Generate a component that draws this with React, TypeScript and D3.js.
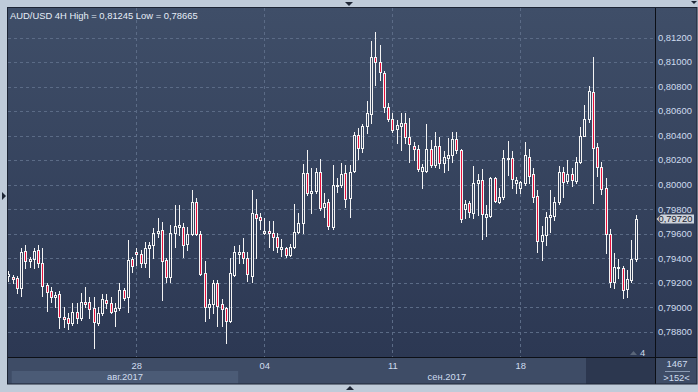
import React from 'react';
import * as d3 from 'd3';

// AUD/USD 4H candles (oldest first)
const opens = [
  0.79254, 0.79244, 0.79236, 0.79154, 0.79458, 0.79379, 0.79393, 0.79466, 0.79363, 0.79181,
  0.79132, 0.79081, 0.79105, 0.78922, 0.78909, 0.78869, 0.78958, 0.78909, 0.7904, 0.7904,
  0.78991, 0.78873, 0.78955, 0.79059, 0.79032, 0.78971, 0.78991, 0.7914, 0.79086, 0.79391,
  0.79448, 0.79434, 0.79358, 0.7948, 0.79507, 0.79603, 0.7963, 0.79385, 0.79249, 0.79603,
  0.79656, 0.79652, 0.79513, 0.79594, 0.79856, 0.79594, 0.79276, 0.79004, 0.79026, 0.79195,
  0.79026, 0.78991, 0.7889, 0.79263, 0.79434, 0.79448, 0.79404, 0.79257, 0.7976, 0.79733,
  0.79603, 0.79621, 0.79603, 0.7957, 0.79475, 0.7948, 0.79426, 0.79488, 0.79611, 0.79684,
  0.80092, 0.79929, 0.79945, 0.80105, 0.79815, 0.79856, 0.79656, 0.79997, 0.79997, 0.80092,
  0.79888, 0.80113, 0.80405, 0.80296, 0.80478, 0.80573, 0.81043, 0.80998, 0.80908, 0.8063,
  0.80533, 0.80451, 0.8048, 0.805, 0.80386, 0.80317, 0.80288, 0.80113, 0.80113, 0.80288,
  0.8016, 0.80315, 0.80179, 0.80214, 0.80241, 0.80369, 0.80282, 0.79798, 0.79847, 0.79766,
  0.80011, 0.80037, 0.79738, 0.79746, 0.80051, 0.7986, 0.79901, 0.80206, 0.80214, 0.80011,
  0.7997, 0.80011, 0.80228, 0.80084, 0.79907, 0.7954, 0.79589, 0.79733, 0.79746, 0.79856,
  0.801, 0.80032, 0.80084, 0.80032, 0.80187, 0.80399, 0.80533, 0.80758, 0.80304, 0.80141,
  0.7997, 0.79597, 0.79208, 0.7933, 0.79317, 0.79146, 0.79222, 0.79391,
];
const highs = [
  0.79295, 0.79263, 0.79254, 0.7948, 0.79507, 0.79412, 0.79485, 0.79507, 0.7948, 0.792,
  0.79162, 0.79126, 0.79134, 0.78999, 0.78955, 0.79032, 0.79037, 0.79113, 0.79162, 0.79086,
  0.79086, 0.79004, 0.79105, 0.79105, 0.79086, 0.79037, 0.79195, 0.79154, 0.79548, 0.79412,
  0.7948, 0.79466, 0.79534, 0.79534, 0.79643, 0.79725, 0.79697, 0.79399, 0.7967, 0.79834,
  0.79834, 0.79684, 0.79656, 0.79956, 0.79888, 0.79621, 0.79377, 0.79064, 0.79222, 0.79222,
  0.79064, 0.79004, 0.79404, 0.79499, 0.79507, 0.79562, 0.79453, 0.79956, 0.7988, 0.79771,
  0.79725, 0.79705, 0.79705, 0.79603, 0.79554, 0.79488, 0.79513, 0.79839, 0.79766, 0.80168,
  0.80282, 0.80133, 0.80133, 0.80206, 0.79929, 0.79882, 0.8016, 0.80051, 0.80174, 0.8016,
  0.8016, 0.80427, 0.80459, 0.80492, 0.80682, 0.81171, 0.81245, 0.81139, 0.80927, 0.80663,
  0.80581, 0.80527, 0.80581, 0.80581, 0.80541, 0.8035, 0.80323, 0.80165, 0.80494, 0.80364,
  0.80427, 0.80391, 0.80274, 0.80378, 0.80427, 0.80431, 0.8029, 0.79874, 0.79866, 0.80152,
  0.80086, 0.80127, 0.79834, 0.80064, 0.80064, 0.7997, 0.80282, 0.80358, 0.80274, 0.80064,
  0.80032, 0.80345, 0.8029, 0.80138, 0.79956, 0.79662, 0.79774, 0.79956, 0.79901, 0.80152,
  0.80146, 0.80201, 0.80133, 0.80228, 0.80472, 0.80649, 0.80807, 0.81043, 0.80342, 0.80187,
  0.80051, 0.79635, 0.7944, 0.79391, 0.79336, 0.79303, 0.79548, 0.79752,
];
const lows = [
  0.79214, 0.792, 0.79113, 0.79091, 0.79317, 0.7933, 0.79317, 0.7933, 0.79094, 0.78971,
  0.79045, 0.78999, 0.78828, 0.78841, 0.7882, 0.78855, 0.78869, 0.78895, 0.79001, 0.78914,
  0.78665, 0.78855, 0.78936, 0.78991, 0.7895, 0.78846, 0.78977, 0.79059, 0.78963, 0.79289,
  0.79344, 0.7933, 0.7933, 0.79249, 0.79399, 0.79575, 0.79059, 0.79208, 0.79208, 0.79488,
  0.79589, 0.79412, 0.79466, 0.79589, 0.79589, 0.79265, 0.7889, 0.78909, 0.7895, 0.78849,
  0.78849, 0.78705, 0.78882, 0.79254, 0.79358, 0.79358, 0.79214, 0.79208, 0.79399, 0.79638,
  0.79597, 0.79493, 0.79466, 0.79453, 0.79417, 0.79412, 0.79417, 0.7948, 0.79603, 0.79608,
  0.79915, 0.79766, 0.79934, 0.79793, 0.79738, 0.79638, 0.79638, 0.79942, 0.79983, 0.7982,
  0.79738, 0.80105, 0.80206, 0.80268, 0.80418, 0.805, 0.80812, 0.80853, 0.80595, 0.80521,
  0.80431, 0.80337, 0.80282, 0.80337, 0.80182, 0.80201, 0.80111, 0.79975, 0.80105, 0.80146,
  0.80146, 0.80133, 0.80105, 0.80119, 0.80187, 0.80255, 0.79697, 0.7973, 0.79738, 0.7973,
  0.79752, 0.79554, 0.79583, 0.79738, 0.7986, 0.79847, 0.7988, 0.80078, 0.7997, 0.79929,
  0.79929, 0.79997, 0.80011, 0.7986, 0.79453, 0.79385, 0.79507, 0.79616, 0.79711, 0.79842,
  0.79901, 0.80011, 0.79991, 0.80015, 0.80179, 0.80396, 0.80513, 0.79852, 0.8007, 0.79923,
  0.79444, 0.79167, 0.79159, 0.79236, 0.79072, 0.79081, 0.79208, 0.79379,
];
const closes = [
  0.79271, 0.79227, 0.79154, 0.79453, 0.79379, 0.79393, 0.79458, 0.79358, 0.79175, 0.79126,
  0.79086, 0.79099, 0.78917, 0.78901, 0.78869, 0.78961, 0.78909, 0.79042, 0.79024, 0.78983,
  0.78882, 0.78955, 0.79064, 0.79032, 0.78963, 0.78996, 0.7914, 0.79077, 0.79385, 0.79338,
  0.79431, 0.79358, 0.7948, 0.79507, 0.79603, 0.79621, 0.79377, 0.79249, 0.79603, 0.79662,
  0.7967, 0.79507, 0.79594, 0.79856, 0.79594, 0.79271, 0.79004, 0.79026, 0.79195, 0.79012,
  0.78983, 0.7889, 0.79276, 0.79448, 0.79448, 0.79399, 0.79268, 0.79766, 0.79725, 0.79711,
  0.79621, 0.79603, 0.7957, 0.79488, 0.79488, 0.79426, 0.79488, 0.79611, 0.79684, 0.80092,
  0.79929, 0.79945, 0.801, 0.79807, 0.79847, 0.79662, 0.79997, 0.79989, 0.80084, 0.79882,
  0.801, 0.80405, 0.80296, 0.80478, 0.80581, 0.81038, 0.80998, 0.80921, 0.8063, 0.80533,
  0.80445, 0.80486, 0.805, 0.80386, 0.80331, 0.8029, 0.80127, 0.80141, 0.80288, 0.8016,
  0.80315, 0.80179, 0.80223, 0.80241, 0.80369, 0.80282, 0.79717, 0.79839, 0.79774, 0.80011,
  0.80037, 0.79758, 0.79758, 0.80051, 0.79869, 0.79901, 0.80214, 0.80219, 0.80043, 0.80037,
  0.80019, 0.80241, 0.80073, 0.79901, 0.79542, 0.79589, 0.79738, 0.79752, 0.79856, 0.801,
  0.80024, 0.80084, 0.80037, 0.80187, 0.80399, 0.80533, 0.80766, 0.80296, 0.80146, 0.79962,
  0.79594, 0.79208, 0.7933, 0.79317, 0.7914, 0.79227, 0.79391, 0.7972,
];

const priceTicks = [0.788, 0.79, 0.792, 0.794, 0.796, 0.798, 0.8, 0.802, 0.804, 0.806, 0.808, 0.81, 0.812];
const dayTicks = [
  { bar: 30, label: '28' },
  { bar: 60, label: '04' },
  { bar: 90, label: '11' },
  { bar: 120, label: '18' },
];
const months = [
  { label: 'авг.2017', fromBar: -1, toBar: 54 },
  { label: 'сен.2017', fromBar: 54, toBar: 175 },
];
const symbol = 'AUD/USD';
const period = '4H';
const totalBars = 1467;
const shownBars = 152;
const shift = 4;

const W = 698;
const H = 392;
const left = 8;
const plotRight = 655;
const top = 8;
const plotBottom = 357;
const axisBottom = 384;
const barStep = 128 / 30;

const fmt = (v: number) => d3.format('.5f')(v).replace('.', ',');
const FONT = '"Liberation Sans", Arial, sans-serif';

const App: React.FC = () => {
  const n = closes.length;
  const x = d3.scaleLinear().domain([0, n - 1]).range([8.3, 8.3 + (n - 1) * barStep]);
  const y = d3.scaleLinear().domain([0.788, 0.812]).range([331.7, 37.5]);

  const hi = d3.max(highs) as number;
  const lo = d3.min(lows) as number;
  const last = closes[n - 1];
  const lastY = y(last);

  const candles = closes.map((c, i) => {
    const o = opens[i];
    const col = Math.round(x(i));
    const yt = Math.round(y(Math.max(o, c)));
    const yb = Math.max(Math.round(y(Math.min(o, c))), yt + 1);
    const bear = c < o;
    return (
      <g key={i}>
        <line x1={col + 0.5} x2={col + 0.5} y1={Math.round(y(highs[i]))} y2={yt} stroke="#f4f4f4" />
        <line x1={col + 0.5} x2={col + 0.5} y1={yb + 1} y2={Math.round(y(lows[i])) + 1} stroke="#f4f4f4" />
        <rect x={col - 0.5} y={yt + 0.5} width={2} height={yb - yt}
          fill={bear ? '#e8113c' : 'none'} stroke="#f4f4f4" strokeWidth={1} />
      </g>
    );
  });

  return (
    <svg width={W} height={H} style={{ position: 'absolute', left: 0, top: 0 }} fontFamily={FONT}>
      <defs>
        <linearGradient id="bg" x1="0" y1="0" x2="0" y2="1">
          <stop offset="0" stopColor="#3f4e68" />
          <stop offset="1" stopColor="#2c3853" />
        </linearGradient>
      </defs>
      <rect width={W} height={H} fill="#bfcbd9" />
      {/* frame arrows */}
      <path d="M345,2 L353,2 L349,6 Z" fill="#1e2636" />
      <path d="M346,390 L354,390 L350,386 Z" fill="#1e2636" />
      <path d="M2,192 L2,200 L6,196 Z" fill="#1e2636" />
      <path d="M691,1 L697,1 L694,4 Z" fill="#1e2636" />

      <rect x={left} y={top} width={697 - left} height={plotBottom - top} fill="url(#bg)" />
      <rect x={left} y={plotBottom} width={697 - left} height={axisBottom - plotBottom} fill="#3e4c66" />

      {/* grid */}
      {priceTicks.map(p => (
        <line key={p} x1={left} x2={plotRight} y1={Math.round(y(p)) + 0.5} y2={Math.round(y(p)) + 0.5}
          stroke="#5b6b86" strokeDasharray="3,3" />
      ))}
      {dayTicks.map(t => (
        <line key={t.label} x1={Math.round(x(t.bar)) + 0.5} x2={Math.round(x(t.bar)) + 0.5} y1={top} y2={plotBottom}
          stroke="#5b6b86" strokeDasharray="3,3" />
      ))}

      {candles}

      {/* title */}
      <text x={10} y={18.5} fontSize={9.4} fill="#e6edf7">
        {`${symbol} ${period} High = ${fmt(hi)} Low = ${fmt(lo)}`}
      </text>

      {/* price axis */}
      {priceTicks.map(p => (
        <text key={p} x={658} y={y(p) + 3.4} fontSize={9.4} fill="#cfdcef">{fmt(p)}</text>
      ))}
      <path d={`M656.5,${lastY} L661,${lastY - 4.5} L694,${lastY - 4.5} L694,${lastY + 4.5} L661,${lastY + 4.5} Z`}
        fill="#cdd2da" />
      <text x={658.5} y={lastY + 3.4} fontSize={9.4} fill="#1a2232">{fmt(last)}</text>

      {/* shift marker */}
      <path d="M630,355 L637,355 L633.5,351 Z" fill="#5a6679" />
      <text x={640} y={355.7} fontSize={9.4} fill="#cfdcef">{shift}</text>

      {/* time axis */}
      {months.map((m, i) => {
        const x0 = Math.max(x(m.fromBar), 11.7);
        const x1 = Math.min(x(m.toBar) - 0.5, plotRight);
        return (
          <g key={m.label}>
            {i % 2 === 0 && <rect x={x0} y={371} width={x1 - x0} height={12.5} fill="#4b5b76" />}
            <text x={(x0 + x1) / 2} y={380} fontSize={9.4} fill="#cfdcef" textAnchor="middle">{m.label}</text>
          </g>
        );
      })}
      <rect x={586} y={358} width={plotRight - 586} height={axisBottom - 358} fill="#2c374f" />
      {dayTicks.map(t => (
        <text key={t.label} x={x(t.bar) + 0.5} y={368.5} fontSize={9.4} fill="#cfdcef" textAnchor="middle">{t.label}</text>
      ))}
      <text x={677} y={367.3} fontSize={9.4} fill="#cfdcef" textAnchor="middle">{totalBars}</text>
      <line x1={665} x2={690} y1={371.5} y2={371.5} stroke="#8a9ab3" />
      <text x={676.5} y={380.7} fontSize={9.4} fill="#cfdcef" textAnchor="middle">{`>${shownBars}<`}</text>

      {/* separators and border */}
      <line x1={plotRight + 0.5} x2={plotRight + 0.5} y1={top} y2={axisBottom} stroke="#0c0f16" />
      <line x1={left} x2={697} y1={plotBottom + 0.5} y2={plotBottom + 0.5} stroke="#0c0f16" />
      <rect x={left - 0.5} y={top - 0.5} width={697 - left + 0.5} height={axisBottom - top + 0.5}
        fill="none" stroke="#1c2434" />
    </svg>
  );
};

export default App;
